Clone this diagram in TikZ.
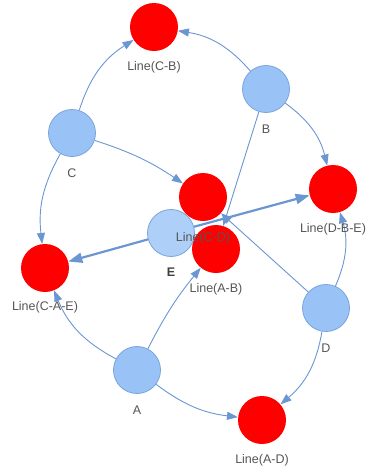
\documentclass[tikz,border=0pt]{standalone}
\usepackage{fontspec}
\setmainfont{Liberation Sans}
\usetikzlibrary{arrows.meta}
\definecolor{nodeblue}{HTML}{99C2F7}
\definecolor{nodelight}{HTML}{ADCFF8}
\definecolor{nodeedge}{HTML}{7BA4DB}
\definecolor{edgeblue}{HTML}{6A96D2}
\definecolor{txt}{HTML}{555555}
\begin{document}
\begin{tikzpicture}[x=1pt,y=-1pt,
 vertex/.style={circle, fill=nodeblue, draw=nodeedge, line width=0.8pt, minimum size=47pt, inner sep=0pt},
 linenode/.style={circle, fill=red, minimum size=48pt, inner sep=0pt},
 lbl/.style={text=txt, font=\fontsize{12.5}{14}\selectfont, inner sep=0pt},
 link/.style={draw=edgeblue, line width=0.9pt, -{Triangle[length=11pt,width=8pt]}},
 heavylink/.style={draw=edgeblue, line width=2.2pt, -{Triangle[length=14pt,width=10pt]}}]
\useasboundingbox (0,0) rectangle (367,472);
% nodes
\node[linenode] (CB) at (154,27) {};
\node[vertex] (B) at (266,89) {};
\node[vertex] (C) at (72,133) {};
\node[linenode] (CD) at (203,197) {};
\node[linenode] (DBE) at (333,189) {};
\node[linenode] (AB) at (216,249) {};
\node[vertex, fill=nodelight] (E) at (171,233) {};
\node[linenode] (CAE) at (45,268) {};
\node[vertex] (D) at (326,308) {};
\node[vertex] (A) at (137,370) {};
\node[linenode] (AD) at (262,420) {};
% edges
\draw[link] (C) to[bend left=20] (CB);
\draw[link] (B) to[bend right=20] (CB);
\draw[link] (B) to[bend left=20] (DBE);
\draw[link] (B) to (AB);
\draw[link] (C) to[bend left=8] (CD);
\draw[link] (C) to[bend right=18] (CAE);
\draw[link] (D) to (CD);
\draw[link] (D) to[bend right=20] (DBE);
\draw[link] (D) to[bend left=20] (AD);
\draw[link] (A) to[bend left=20] (CAE);
\draw[link] (A) to[bend left=6] (AB);
\draw[link] (A) to[bend right=15] (AD);
\draw[heavylink] (E) to (CAE);
\draw[heavylink] (E) to (DBE);
% labels
\node[lbl] (lCB) at (154,67) {Line(C-B)};
\node[lbl] (lB) at (266,129) {B};
\node[lbl] (lC) at (72,173) {C};
\node[lbl] (lCD) at (203,238) {Line(C-D)};
\node[lbl] (lDBE) at (333,229) {Line(D-B-E)};
\node[lbl] (lAB) at (216,289) {Line(A-B)};
\node[lbl, text=black!75, font=\fontsize{12.5}{14}\selectfont\bfseries] (lE) at (171,272) {E};
\node[lbl] (lCAE) at (45,307) {Line(C-A-E)};
\node[lbl] (lD) at (326,348) {D};
\node[lbl] (lA) at (137,410) {A};
\node[lbl] (lAD) at (262,460) {Line(A-D)};
\end{tikzpicture}
\end{document}
